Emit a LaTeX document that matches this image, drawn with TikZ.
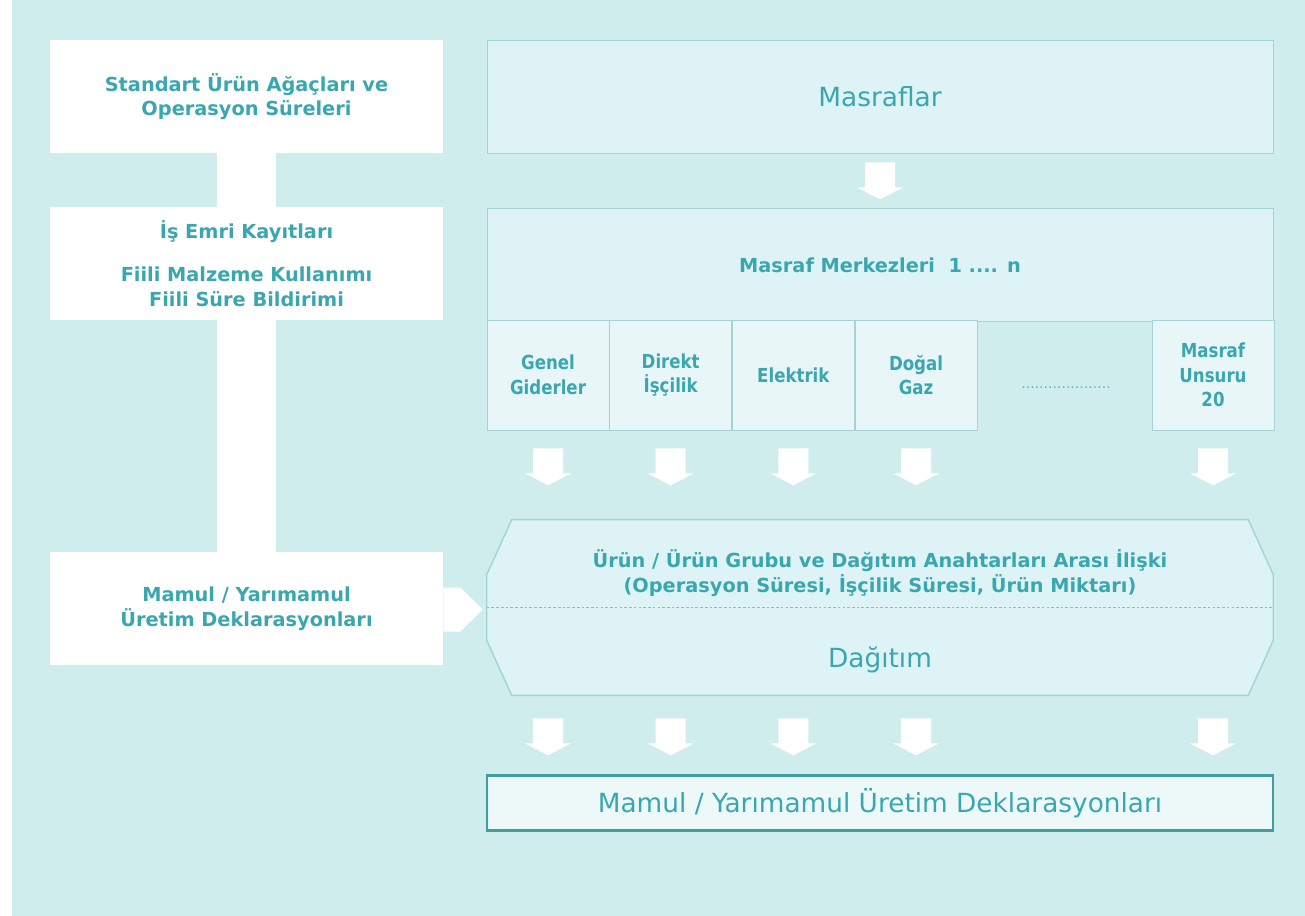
\documentclass[tikz,border=0pt]{standalone}
\usepackage{fontspec}
\setmainfont{DejaVu Sans}
\newfontfamily\condfont[FakeStretch=0.86]{DejaVu Sans}
\usetikzlibrary{positioning, calc, backgrounds}

\definecolor{bg}{HTML}{CFEDED}
\definecolor{txt}{HTML}{3AA7B0}
\definecolor{edge}{HTML}{A2D4D4}
\definecolor{boxfill}{HTML}{DEF3F5}
\definecolor{subfill}{HTML}{E8F6F7}
\definecolor{botfill}{HTML}{EDF8F9}
\definecolor{darkedge}{HTML}{3E9EA0}

\newcommand{\smallbold}{\fontsize{11}{14}\selectfont\bfseries}
\newcommand{\condbold}{\condfont\fontsize{11}{14}\selectfont\bfseries}
\newcommand{\bigtext}{\fontsize{15}{18}\selectfont}

\tikzset{
    leftbox/.style={fill=white, minimum width=7.86cm, minimum height=2.26cm,
        align=center, text=txt, font=\smallbold},
    rightbox/.style={draw=edge, fill=boxfill, minimum width=15.72cm,
        minimum height=2.26cm, align=center, text=txt},
    subbox/.style={draw=edge, fill=subfill, minimum width=2.44cm,
        minimum height=2.2cm, align=center, text=txt, font=\condbold},
    octa/.style={draw=edge, fill=boxfill, line width=0.8pt},
    downarr/.pic={
        \fill[white] (-15,0) -- (15,0) -- (15,25) -- (23,25) -- (0,37)
            -- (-23,25) -- (-15,25) -- cycle;
    }
}

\begin{document}
\begin{tikzpicture}[x=0.02cm, y=-0.02cm]
    \useasboundingbox (0,0) rectangle (1305,916);
    \begin{pgfonlayer}{background}
        \fill[white] (0,0) rectangle (12,916);
        \fill[bg] (12,0) rectangle (1305,916);
    \end{pgfonlayer}

    % left column
    \node[leftbox] (std) at (246.5,96.5) {Standart Ürün Ağaçları ve\\Operasyon Süreleri};
    \node[leftbox] (isemri) at (246.5,263.5) {İş Emri Kayıtları\\[11pt]Fiili Malzeme Kullanımı\\Fiili Süre Bildirimi};
    \node[leftbox] (mamul) at (246.5,608.5) {Mamul / Yarımamul\\Üretim Deklarasyonları};
    \begin{pgfonlayer}{background}
        \fill[white] ($(std.south)+(-29.5,0)$) rectangle ($(mamul.north)+(29.5,0)$);
    \end{pgfonlayer}

    % right column
    \node[rightbox, font=\bigtext] (masraf) at (880,96.5) {Masraflar};
    \node[rightbox, font=\smallbold] (merkez) at (880,265) {Masraf Merkezleri~~1 .... n};
    \node[subbox] (genel) at (548,375) {Genel\\Giderler};
    \node[subbox, right=0pt of genel] (direkt) {Direkt\\İşçilik};
    \node[subbox, right=0pt of direkt] (elektrik) {Elektrik};
    \node[subbox, right=0pt of elektrik] (dogal) {Doğal\\Gaz};
    \node[subbox] (unsur) at (1213,375) {Masraf\\Unsuru\\20};
    \node[text=txt!80, font=\fontsize{8}{8}\selectfont] (dots) at (1066,388) {....................};

    % distribution
    \node[minimum width=15.72cm, minimum height=3.5cm] (dag) at (880,607.5) {};
    \draw[octa] ([xshift=0.5cm]dag.north west) -- ([xshift=-0.5cm]dag.north east)
        -- ([yshift=-1.1cm]dag.north east) -- ([yshift=1.1cm]dag.south east)
        -- ([xshift=-0.5cm]dag.south east) -- ([xshift=0.5cm]dag.south west)
        -- ([yshift=1.1cm]dag.south west) -- ([yshift=-1.1cm]dag.north west) -- cycle;
    \draw[edge!80!teal, dash pattern=on 1.5pt off 1.2pt] (dag.west) -- (dag.east);
    \node[text=txt, font=\smallbold, align=center] (iliski) at (880,573)
        {Ürün / Ürün Grubu ve Dağıtım Anahtarları Arası İlişki\\(Operasyon Süresi, İşçilik Süresi, Ürün Miktarı)};
    \node[text=txt, font=\bigtext] (dagitim) at (880,660) {Dağıtım};
    \fill[white] ($(mamul.east)+(0,-21)$) -- ++(17,0) -- ($(dag.west)+(-4,2)$)
        -- ($(mamul.east)+(17,23)$) -- ($(mamul.east)+(0,23)$) -- cycle;

    \node[draw=darkedge, line width=1.5pt, fill=botfill, minimum width=15.72cm,
        minimum height=1.1cm, font=\bigtext, text=txt] (uretim) at (880,803)
        {Mamul / Yarımamul Üretim Deklarasyonları};

    % arrows
    \pic at ($(masraf.south)+(0,9)$) {downarr};
    \foreach \n in {genel,direkt,elektrik,dogal,unsur} {
        \pic at ($(\n.south)+(0,18)$) {downarr};
        \pic at ($(\n.south |- dag.south)+(0,23)$) {downarr};
    }
\end{tikzpicture}
\end{document}
